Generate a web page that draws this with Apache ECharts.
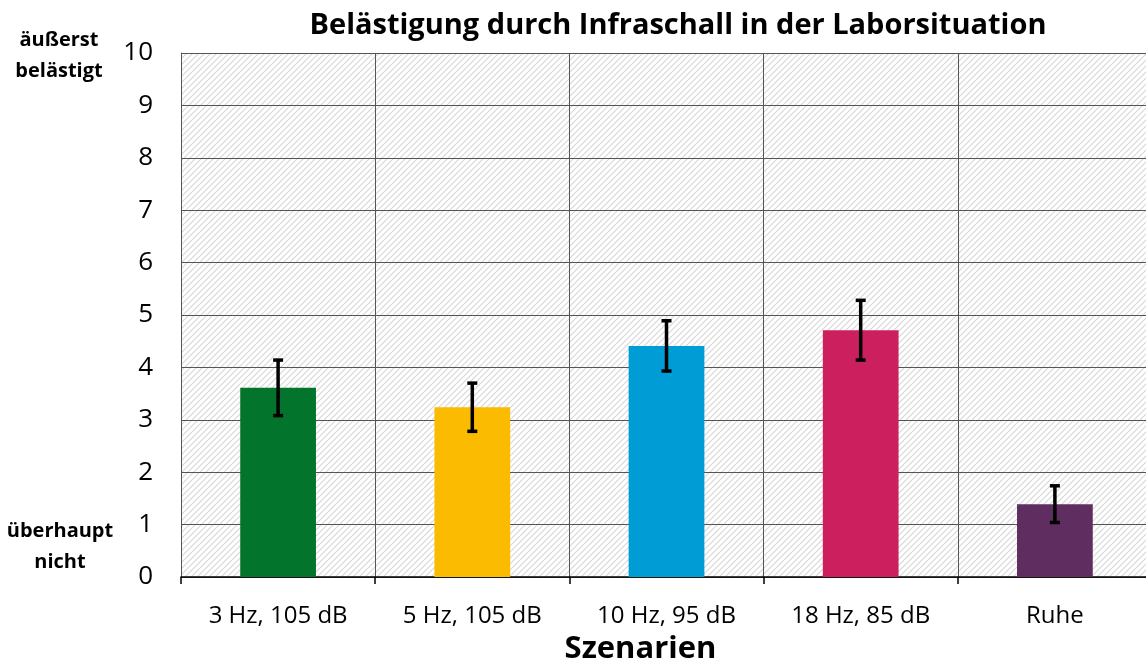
<!DOCTYPE html>
<html>
<head>
<meta charset="utf-8">
<script src="https://cdn.jsdelivr.net/npm/echarts@6/dist/echarts.min.js"></script>
<style>
html, body { margin: 0; padding: 0; background: #fff; }
#chart { width: 1146px; height: 661px; }
</style>
</head>
<body>
<div id="chart"></div>
<script>
// Daten
let szenarien = ["3 Hz, 105 dB", "5 Hz, 105 dB", "10 Hz, 95 dB", "18 Hz, 85 dB", "Ruhe"];
let mittelwerte = [3.61, 3.24, 4.41, 4.71, 1.39];
let fehler = [0.53, 0.46, 0.48, 0.57, 0.35];
let farben = ["#03742c", "#fbbb00", "#009cd6", "#cc1f5e", "#5f2d60"];

// Schraffur fuer den Hintergrund
let hatch = document.createElement("canvas");
hatch.width = 6;
hatch.height = 6;
let ctx = hatch.getContext("2d");
ctx.fillStyle = "#ffffff";
ctx.fillRect(0, 0, 6, 6);
ctx.strokeStyle = "#d6d6d6";
ctx.lineWidth = 1.1;
ctx.beginPath();
ctx.moveTo(-1, 7); ctx.lineTo(7, -1);
ctx.moveTo(-1, 1); ctx.lineTo(1, -1);
ctx.moveTo(5, 7); ctx.lineTo(7, 5);
ctx.stroke();

let font = "'Open Sans', 'Noto Sans', sans-serif";
let chart = echarts.init(document.getElementById("chart"));
let option = {
	animation: false,
	title: {
		text: "Belästigung durch Infraschall in der Laborsituation",
		left: 673,
		textAlign: "center",
		top: 6,
		textStyle: { fontFamily: font, fontSize: 29, fontWeight: "bold", color: "#000" },
	},
	grid: {
		left: 181,
		right: -6,
		top: 53,
		bottom: 84,
		outerBoundsMode: "none",
		show: true,
		borderWidth: 0,
		backgroundColor: { image: hatch, repeat: "repeat" },
	},
	xAxis: {
		type: "category",
		data: szenarien,
		name: "Szenarien",
		nameLocation: "middle",
		nameGap: 57,
		nameTextStyle: { fontFamily: font, fontSize: 31, fontWeight: "bold", color: "#000", padding: [0, 52, 0, 0] },
		axisLine: { lineStyle: { color: "#000", width: 1.5 } },
		axisTick: { show: true, length: 7, lineStyle: { color: "#000", width: 1.5 } },
		axisLabel: { fontFamily: font, fontSize: 24, color: "#000", margin: 27 },
		splitLine: { show: true, lineStyle: { color: "#555", width: 1 } },
	},
	yAxis: {
		type: "value",
		min: 0,
		max: 10,
		interval: 1,
		axisLine: { show: true, lineStyle: { color: "#555", width: 1 } },
		axisLabel: { fontFamily: font, fontSize: 26, color: "#000", margin: 28 },
		splitLine: { lineStyle: { color: "#555", width: 1 } },
	},
	graphic: [
		{ type: "text", x: 59, y: 25, style: { text: "äußerst\nbelästigt", fontFamily: font, fontSize: 20, fontWeight: "bold", fill: "#000", align: "center", lineHeight: 31 } },
		{ type: "text", x: 60, y: 516, style: { text: "überhaupt\nnicht", fontFamily: font, fontSize: 20, fontWeight: "bold", fill: "#000", align: "center", lineHeight: 31 } },
	],
	series: [
		{
			type: "bar",
			data: mittelwerte.map(function (v, i) {
				return { value: v, itemStyle: { color: farben[i] } };
			}),
			barWidth: "39%",
			z: 2,
		},
		{
			type: "custom",
			data: mittelwerte.map(function (v, i) {
				return [i, v - fehler[i], v + fehler[i]];
			}),
			z: 3,
			renderItem: function (params, api) {
				let lo = api.coord([api.value(0), api.value(1)]);
				let hi = api.coord([api.value(0), api.value(2)]);
				let w = 5;
				let st = { stroke: "#000", lineWidth: 3.5 };
				return {
					type: "group",
					children: [
						{ type: "line", shape: { x1: lo[0], y1: lo[1], x2: hi[0], y2: hi[1] }, style: st },
						{ type: "line", shape: { x1: lo[0] - w, y1: lo[1], x2: lo[0] + w, y2: lo[1] }, style: st },
						{ type: "line", shape: { x1: hi[0] - w, y1: hi[1], x2: hi[0] + w, y2: hi[1] }, style: st },
					],
				};
			},
		},
	],
};
chart.setOption(option);
</script>
</body>
</html>
